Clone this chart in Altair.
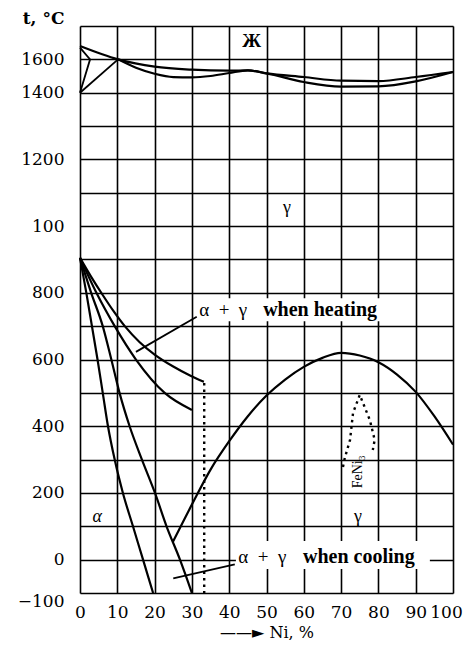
import altair as alt
import pandas as pd

# ---- axes ----
x_ticks = list(range(0, 101, 10))
y_ticks = list(range(-100, 1601, 100))

# ---- liquidus / solidus ----
liq_x = [0, 10.2, 20, 30, 40, 45, 50, 60, 70, 80, 90, 100]
liq_y = [1540, 1500, 1478, 1469, 1466, 1467, 1458, 1447, 1436, 1435, 1447, 1462]
sol_x = [10.2, 15, 20, 25, 30, 35, 40, 45, 50, 60, 70, 80, 90, 100]
sol_y = [1500, 1475, 1457, 1447, 1446, 1450, 1459, 1467, 1458, 1432, 1418, 1419, 1434, 1462]

# ---- delta corner ----
delta1_x = [0, 2.7, 0]
delta1_y = [1535, 1500, 1400]
delta2_x = [0, 10.2]
delta2_y = [1400, 1500]

# ---- alpha+gamma on heating ----
heat1_x = [0, 3, 6, 9, 12, 16, 20, 25, 29.5, 33.2]
heat1_y = [905, 848, 795, 745, 700, 652, 615, 579, 552, 533]
heat2_x = [0, 4.4, 9.3, 15, 22.7, 30]
heat2_y = [905, 800, 700, 600, 500, 449]

# ---- alpha+gamma on cooling ----
cool1_x = [0, 1.7, 3.2, 4.7, 6.1, 7.5, 9.3, 11.5, 14.2, 16.9, 19.6]
cool1_y = [905, 800, 700, 600, 500, 400, 300, 200, 100, 0, -100]
cool2_x = [0, 3.0, 6.1, 8.4, 10.6, 13.3, 16.6, 20.1, 23.2, 26.8, 30]
cool2_y = [905, 800, 700, 600, 500, 400, 300, 200, 100, 0, -100]

# ---- reverse transformation / magnetic curve ----
rev_x = [24.9, 30, 35, 40, 45, 50, 55, 60, 65, 70, 75, 80, 85, 90, 95, 100]
rev_y = [53, 165, 270, 355, 430, 492, 540, 578, 605, 620, 612, 592, 555, 503, 430, 345]

# ---- dotted lines ----
dot_x = [33.3, 33.3]
dot_y = [530, -100]
fe_x = [70.5, 71, 72.4, 73.2, 75, 77.7, 79, 78.5]
fe_y = [278, 305, 359, 440, 494, 419, 359, 329]

# ---- pointer lines ----
ptr_h_x = [31.3, 15]
ptr_h_y = [728, 623]
ptr_c_x = [41.5, 25]
ptr_c_y = [-14, -56]

# ---- label backgrounds ----
box_x = [35.9, 41.8]
box_x2 = [82, 93.8]
box_y = [784, 56]
box_y2 = [715, -28]

# ---- labels ----
zh_text = ["Ж"]
zh_x = [46]
zh_y = [1554]
gamma_text = ["γ", "γ"]
gamma_x = [55.5, 74.5]
gamma_y = [1054, 128]
alpha_text = ["α"]
alpha_x = [4.6]
alpha_y = [128]
ag_text = ["α\u2002+\u2002γ", "α\u2002+\u2002γ"]
ag_x = [38.4, 48.9]
ag_y = [748, 8]
note_text = ["when heating", "when cooling"]
note_x = [49.1, 59.8]
note_y = [748, 8]
fe_text = ["FeNi₃"]
fe_lx = [74.5]
fe_ly = [263]


def series(name, xs, ys):
    return pd.DataFrame({"series": name, "i": range(len(xs)), "x": xs, "y": ys})


smooth_df = pd.concat([
    series("liq", liq_x, liq_y),
    series("sol", sol_x, sol_y),
    series("heat1", heat1_x, heat1_y),
    series("heat2", heat2_x, heat2_y),
    series("cool1", cool1_x, cool1_y),
    series("cool2", cool2_x, cool2_y),
    series("rev", rev_x, rev_y),
])
poly_df = pd.concat([
    series("d1", delta1_x, delta1_y),
    series("d2", delta2_x, delta2_y),
    series("ph", ptr_h_x, ptr_h_y),
    series("pc", ptr_c_x, ptr_c_y),
])
dotted_df = pd.concat([
    series("dot", dot_x, dot_y),
    series("fe", fe_x, fe_y),
])
box_df = pd.DataFrame({"x": box_x, "x2": box_x2, "y": box_y, "y2": box_y2})

y_label_expr = (
    "datum.value == 1500 ? '1600' : datum.value == 1000 ? '100' : "
    "datum.value == -100 ? '−100' : "
    "indexof([1400, 1200, 800, 600, 400, 200, 0], datum.value) >= 0 ? datum.label : ''"
)

X = alt.X(
    "x:Q",
    scale=alt.Scale(domain=[0, 100], nice=False, zero=False),
    axis=alt.Axis(
        values=x_ticks, grid=True, gridColor="black", gridWidth=1.6, gridOpacity=1,
        domain=False, ticks=False, labelFont="DejaVu Serif", labelFontSize=17,
        labelColor="black", labelPadding=11, labelOverlap=False, labelFlush=False,
        labelOffset={"condition": {"test": "datum.value == 100", "value": -7}, "value": 0},
        title="——► Ni, %", titleFont="DejaVu Serif", titleFontSize=16,
        titleFontWeight="normal", titleColor="black", titlePadding=4,
    ),
)
Y = alt.Y(
    "y:Q",
    scale=alt.Scale(domain=[-100, 1600], nice=False, zero=False),
    axis=alt.Axis(
        values=y_ticks, format="d", labelExpr=y_label_expr, grid=True,
        gridColor="black", gridWidth=1.6, gridOpacity=1, domain=False, ticks=False,
        labelFont="DejaVu Serif", labelFontSize=17, labelColor="black",
        labelPadding=16, labelOverlap=False,
        labelBaseline={"condition": {"test": "datum.value == -100", "value": "top"}, "value": "middle"},
        title="t, °C", titleAngle=0, titleAlign="right", titleBaseline="middle",
        titleX=-16, titleY=-8, titleFont="DejaVu Serif", titleFontSize=17,
        titleFontWeight="bold", titleColor="black",
    ),
)

boxes = alt.Chart(box_df).mark_rect(color="white").encode(x=X, x2="x2:Q", y=Y, y2="y2:Q")

smooth = alt.Chart(smooth_df).mark_line(
    interpolate="monotone", color="black", strokeWidth=2.2
).encode(x=X, y=Y, detail="series:N", order="i:Q")

poly = alt.Chart(poly_df).mark_line(color="black", strokeWidth=1.8).encode(
    x=X, y=Y, detail="series:N", order="i:Q"
)

dotted = alt.Chart(dotted_df).mark_line(
    color="black", strokeWidth=2.4, strokeDash=[2.5, 4]
).encode(x=X, y=Y, detail="series:N", order="i:Q")

zh = alt.Chart(pd.DataFrame({"t": zh_text, "x": zh_x, "y": zh_y})).mark_text(
    font="Liberation Serif", fontSize=19, fontWeight="bold", color="black", baseline="middle"
).encode(x=X, y=Y, text="t:N")

gamma = alt.Chart(pd.DataFrame({"t": gamma_text, "x": gamma_x, "y": gamma_y})).mark_text(
    font="Liberation Serif", fontSize=18, color="black", baseline="middle"
).encode(x=X, y=Y, text="t:N")

alpha = alt.Chart(pd.DataFrame({"t": alpha_text, "x": alpha_x, "y": alpha_y})).mark_text(
    font="Liberation Serif", fontSize=18, fontStyle="italic", color="black", baseline="middle"
).encode(x=X, y=Y, text="t:N")

ag = alt.Chart(pd.DataFrame({"t": ag_text, "x": ag_x, "y": ag_y})).mark_text(
    font="Liberation Serif", fontSize=19, color="black", baseline="middle"
).encode(x=X, y=Y, text="t:N")

notes = alt.Chart(pd.DataFrame({"t": note_text, "x": note_x, "y": note_y})).mark_text(
    font="Liberation Serif", fontSize=20, fontWeight="bold", color="black",
    align="left", baseline="middle"
).encode(x=X, y=Y, text="t:N")

fe_label = alt.Chart(pd.DataFrame({"t": fe_text, "x": fe_lx, "y": fe_ly})).mark_text(
    font="Liberation Serif", fontSize=14, color="black", angle=270, baseline="middle"
).encode(x=X, y=Y, text="t:N")

chart = alt.layer(boxes, smooth, poly, dotted, zh, gamma, alpha, ag, notes, fe_label).properties(
    width=373, height=567,
    autosize=alt.AutoSizeParams(type="none"),
    padding={"left": 72, "top": 18, "right": 10, "bottom": 47},
).configure_view(stroke="black", strokeWidth=2).configure(background="white")

chart.save("out.html", embed_options={"renderer": "svg", "actions": False})
